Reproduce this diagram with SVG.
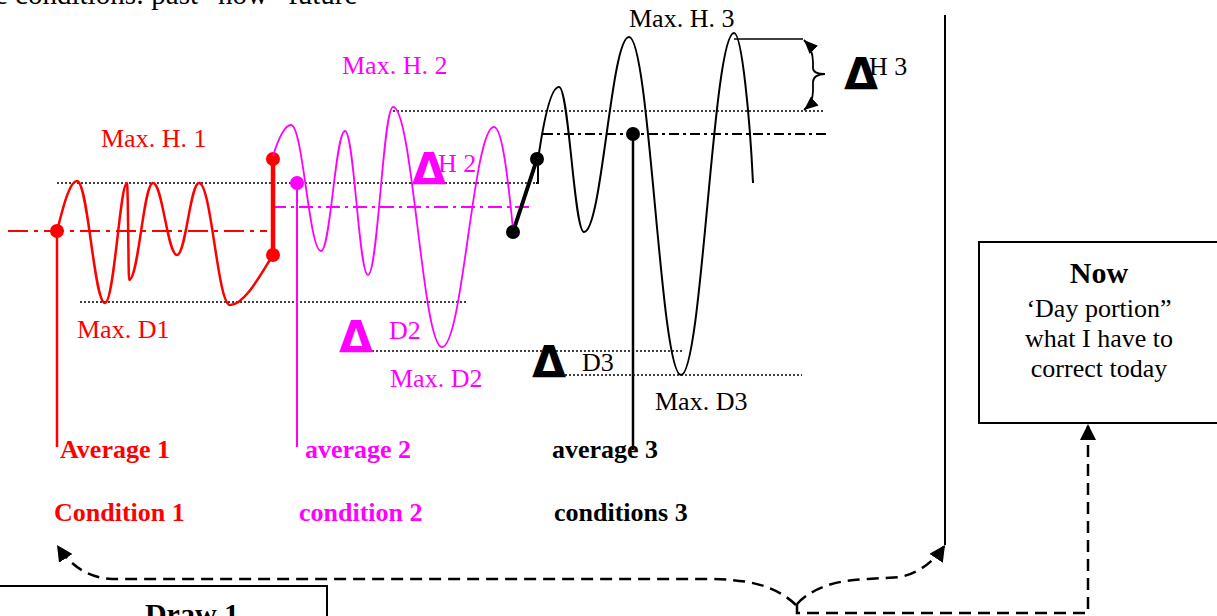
<svg xmlns="http://www.w3.org/2000/svg" width="1217" height="616" viewBox="0 0 1217 616">
<style>
  text { font-family: "Liberation Serif", "Times New Roman", serif; }
  .lbl { font-size: 26px; }
  .bold { font-size: 26px; font-weight: bold; }
  .delta { font-family: "DejaVu Sans", sans-serif; font-weight: bold; font-size: 44px; }
  .red { fill: #FF0000; }
  .mag { fill: #FF00FF; }
  .blk { fill: #000; }
  .dotted { stroke: #000; stroke-width: 1.5; stroke-dasharray: 2 2; fill: none; }
  .dash { stroke: #000; stroke-width: 2.5; stroke-dasharray: 12 7; fill: none; }
</style>
<defs>
  <marker id="arr" markerUnits="userSpaceOnUse" markerWidth="16" markerHeight="16" refX="14" refY="7" orient="auto-start-reverse" viewBox="0 0 14 14">
    <path d="M0,0 L14,7 L0,14 z" fill="#000"/>
  </marker>
  <marker id="arrs" markerUnits="userSpaceOnUse" markerWidth="14" markerHeight="12" refX="13" refY="5.5" orient="auto-start-reverse" viewBox="0 0 13 11">
    <path d="M0,0 L13,5.5 L0,11 z" fill="#000"/>
  </marker>
</defs>
<rect width="1217" height="616" fill="#fff"/>

<text x="-5" y="4" style="font-size:29px" class="blk">e conditions: past  “now”  future</text>

<!-- reference lines -->
<g id="reference-lines">
  <line class="dotted" x1="57" y1="183" x2="537" y2="183"/>
  <line class="dotted" x1="393" y1="111" x2="825" y2="111"/>
  <line class="dotted" x1="80" y1="302" x2="467" y2="302"/>
  <line class="dotted" x1="372" y1="351" x2="682" y2="351"/>
  <line class="dotted" x1="565" y1="375" x2="802" y2="375"/>
  <line x1="8" y1="231" x2="267" y2="231" stroke="#FF0000" stroke-width="2" stroke-dasharray="20 6 4 6"/>
  <line x1="272" y1="207" x2="533" y2="207" stroke="#FF00FF" stroke-width="1.8" stroke-dasharray="14 5 3 5"/>
  <line x1="543" y1="134" x2="826" y2="134" stroke="#000" stroke-width="1.8" stroke-dasharray="10 4 3 4"/>
</g>

<!-- Condition 1 (red) -->
<g id="condition1">
  <path d="M57,231 C62,212 69,181 77,181 C88.2,181 93.8,303 105,303 C114.2,303 120,183 127,183 C128,183 128.5,280 129,280 C138.6,280 143.4,183 153,183 C162.6,183 167.4,255 177,255 C185.8,255 190.2,183 199,183 C211.4,183 217.6,305 230,305 C245,305 262,272 273,255" fill="none" stroke="#FF0000" stroke-width="2.5"/>
  <line x1="273" y1="159" x2="273" y2="255" stroke="#FF0000" stroke-width="4.5"/>
  <line x1="57" y1="231" x2="57" y2="447" stroke="#FF0000" stroke-width="2.5"/>
  <circle cx="57" cy="231" r="7" fill="#FF0000"/>
  <circle cx="273" cy="159" r="7" fill="#FF0000"/>
  <circle cx="273" cy="255" r="7" fill="#FF0000"/>
  <text x="101" y="147" class="lbl red">Max. H. 1</text>
  <text x="77" y="338" class="lbl red">Max. D1</text>
  <text x="60" y="458" class="bold red">Average 1</text>
  <text x="54" y="521" class="bold red">Condition 1</text>
</g>

<!-- Condition 2 (magenta) -->
<g id="condition2">
  <path d="M273,156 C278,140 284,125 291,125 C303,125 309,251 321,251 C330.6,251 335.4,131 345,131 C354.2,131 358.8,275 368,275 C378,275 383,107 393,107 C412.6,107 422.4,347 442,347 C462.8,347 473.2,127 494,127 C503,127 509,190 513,229" fill="none" stroke="#FF00FF" stroke-width="1.8"/>
  <line x1="297" y1="183" x2="297" y2="447" stroke="#FF00FF" stroke-width="2"/>
  <circle cx="297" cy="183" r="7" fill="#FF00FF"/>
  <text x="342" y="74" class="lbl mag">Max. H. 2</text>
  <text x="412" y="185" class="delta mag">Δ</text>
  <text x="438" y="172" class="lbl mag">H 2</text>
  <text x="339" y="353" class="delta mag">Δ</text>
  <text x="389" y="339" class="lbl mag">D2</text>
  <text x="390" y="387" class="lbl mag">Max. D2</text>
  <text x="305" y="458" class="bold mag">average 2</text>
  <text x="299" y="521" class="bold mag">condition 2</text>
</g>

<!-- Condition 3 (black) -->
<g id="condition3">
  <path d="M536,183 L538,183 L538,160 C543,125 550,87 559,87 C569,87 574,232 584,232 C602,232 611,37 629,37 C649.8,37 660.2,375 681,375 C702.2,375 712.8,33 734,33 C742,33 750,120 753,183" fill="none" stroke="#000" stroke-width="2"/>
  <line x1="513" y1="232" x2="537" y2="159" stroke="#000" stroke-width="4"/>
  <line x1="633" y1="134" x2="633" y2="450" stroke="#000" stroke-width="2.5"/>
  <circle cx="513" cy="232" r="7" fill="#000"/>
  <circle cx="537" cy="159" r="7" fill="#000"/>
  <circle cx="633" cy="134" r="7" fill="#000"/>
  <line x1="734" y1="39" x2="803" y2="39" stroke="#000" stroke-width="1.5"/>
  <path d="M804,40 C811,47 813,55 813,62 L813,68 C813,72 818,74 825,74 C818,74 813,77 813,82 L813,91 C813,99 810,105 804,110" fill="none" stroke="#000" stroke-width="1.8" marker-start="url(#arrs)" marker-end="url(#arrs)"/>
  <text x="629" y="27" class="lbl blk">Max. H. 3</text>
  <text x="844" y="90" class="delta blk">Δ</text>
  <text x="869" y="75" class="lbl blk">H 3</text>
  <text x="532" y="378" class="delta blk">Δ</text>
  <text x="582" y="371" class="lbl blk">D3</text>
  <text x="655" y="410" class="lbl blk">Max. D3</text>
  <text x="552" y="458" class="bold blk">average 3</text>
  <text x="554" y="521" class="bold blk">conditions 3</text>
</g>

<!-- divider line -->
<g id="divider">
  <line x1="945" y1="15" x2="945" y2="545" stroke="#000" stroke-width="2"/>
</g>

<!-- Now box -->
<g id="now-box">
  <rect x="979" y="242" width="240" height="181" fill="#fff" stroke="#000" stroke-width="2"/>
  <text x="1099" y="283" text-anchor="middle" style="font-size:30px;font-weight:bold">Now</text>
  <text x="1099" y="317" text-anchor="middle" class="lbl">‘Day portion”</text>
  <text x="1099" y="347" text-anchor="middle" class="lbl">what I have to</text>
  <text x="1099" y="377" text-anchor="middle" class="lbl">correct today</text>
</g>

<!-- Draw 1 box -->
<g id="draw-box">
  <rect x="-2" y="586" width="329" height="40" fill="#fff" stroke="#000" stroke-width="2"/>
  <text x="192" y="624" text-anchor="middle" style="font-size:30px;font-weight:bold">Draw 1</text>
</g>

<!-- connectors -->
<g id="connectors">
  <path class="dash" d="M796,605 C775,585 748,579 705,579 L112,579 C90,578 72,568 57,545" marker-end="url(#arr)"/>
  <path class="dash" d="M797,604 C810,590 832,580 868,579 L900,577 C920,573 935,560 945,545" marker-end="url(#arr)"/>
  <path class="dash" d="M797,604 L797,613 L1088,613 L1088,424" marker-end="url(#arr)"/>
</g>
</svg>
